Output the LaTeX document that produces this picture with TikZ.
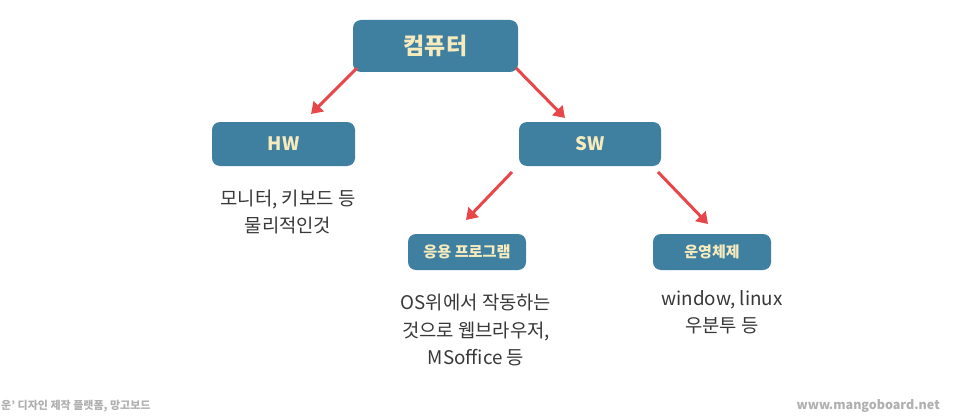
\documentclass[tikz,border=0pt]{standalone}
\usepackage{fontspec}
\setmainfont{Noto Sans CJK KR}
\usetikzlibrary{arrows.meta}
\definecolor{boxblue}{HTML}{3F80A1}
\definecolor{labcream}{HTML}{F7EBBE}
\definecolor{arrred}{HTML}{E8474A}
\definecolor{txtgray}{HTML}{383838}
\definecolor{wmgray}{HTML}{B0B0B0}
\tikzset{
  box/.style={fill=boxblue, rounded corners=8pt, text=labcream, font=\bfseries, inner sep=0pt},
  desc/.style={text=txtgray, align=center, font=\fontsize{18.8}{27.5}\selectfont},
  conn/.style={draw=arrred, line width=3pt, -{Triangle[length=11pt,width=14pt]}},
  wm/.style={text=wmgray, font=\bfseries\fontsize{11}{13}\selectfont}
}
\begin{document}
\begin{tikzpicture}[x=1pt,y=-1pt]
\useasboundingbox (0,0) rectangle (956,420);
\fill[white] (0,0) rectangle (956,420);
\node[box, minimum width=165pt, minimum height=52pt, font=\bfseries\fontsize{23}{25}\selectfont] (cpu) at (435.5,46) {컴퓨터};
\node[box, minimum width=143pt, minimum height=44pt, font=\bfseries\fontsize{18.5}{20}\selectfont] (hw) at (283.5,144) {HW};
\node[box, minimum width=142pt, minimum height=44pt, font=\bfseries\fontsize{18.5}{20}\selectfont] (sw) at (590,144) {SW};
\node[box, minimum width=118pt, minimum height=36pt, font=\bfseries\fontsize{15.2}{17}\selectfont] (app) at (467,252) {응용 프로그램};
\node[box, minimum width=118pt, minimum height=36pt, font=\bfseries\fontsize{15}{17}\selectfont] (os) at (712,252) {운영체제};
\node[desc] (hwd) at (288,212) {모니터, 키보드 등\\물리적인것};
\node[desc] (appd) at (476,330) {OS위에서 작동하는\\것으로 웹브라우저,\\MSoffice 등};
\node[desc] (osd) at (722,312) {window, linux\\우분투 등};
\coordinate (a1s) at (357,68); \coordinate (a1e) at (311,114);
\coordinate (a2s) at (516,68); \coordinate (a2e) at (565,118);
\coordinate (a3s) at (512,172); \coordinate (a3e) at (466,220);
\coordinate (a4s) at (658,172); \coordinate (a4e) at (708,224);
\draw[conn] (a1s) -- (a1e);
\draw[conn] (a2s) -- (a2e);
\draw[conn] (a3s) -- (a3e);
\draw[conn] (a4s) -- (a4e);
\node[wm, anchor=west, inner sep=0pt] (wml) at (1,406) {운’ 디자인 제작 플랫폼, 망고보드};
\node[wm, anchor=east, inner sep=0pt, font=\bfseries\fontsize{12.5}{14}\selectfont] (wmr) at (940,406) {www.mangoboard.net};
\end{tikzpicture}
\end{document}
